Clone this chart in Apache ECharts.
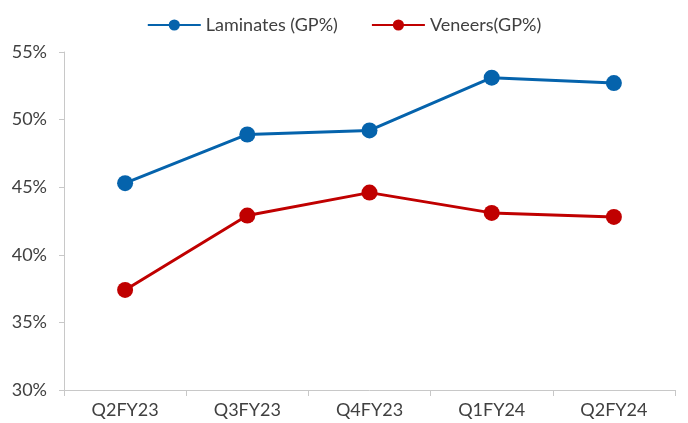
<!DOCTYPE html>
<html><head><meta charset="utf-8">
<script src="https://cdn.jsdelivr.net/npm/echarts@6/dist/echarts.min.js"></script>
<style>html,body{margin:0;padding:0;background:#fff}#c{width:688px;height:423px}</style>
</head><body><div id="c"></div>
<script>
const categories = ['Q2FY23','Q3FY23','Q4FY23','Q1FY24','Q2FY24'];
const laminates = [45.3, 48.9, 49.2, 53.1, 52.7];
const veneers = [37.4, 42.9, 44.6, 43.1, 42.8];
const seriesNames = ['Laminates (GP%)', 'Veneers(GP%)'];

const chart = echarts.init(document.getElementById('c'));
const font = 'Lato, "Open Sans", sans-serif';
chart.setOption({
  animation: false,
  textStyle: {fontFamily: font},
  legend: {
    top: 11, left: 'center', itemGap: 33, itemWidth: 53, itemHeight: 14,
    textStyle: {fontSize: 18, color: '#404040', fontFamily: font},
    data: seriesNames
  },
  grid: {left: 64, right: 13, top: 52, bottom: 33},
  xAxis: {
    type: 'category', data: categories, boundaryGap: true,
    axisLine: {lineStyle: {color: '#c8c8c8', width: 1}},
    axisTick: {show: true, length: 6, lineStyle: {color: '#c8c8c8'}},
    axisLabel: {fontSize: 18, color: '#404040', margin: 11, fontFamily: font}
  },
  yAxis: {
    type: 'value', min: 30, max: 55, interval: 5,
    axisLine: {show: true, lineStyle: {color: '#c8c8c8', width: 1}},
    axisTick: {show: true, length: 5, lineStyle: {color: '#c8c8c8'}},
    splitLine: {show: false},
    axisLabel: {fontSize: 18, color: '#404040', margin: 17, fontFamily: font, formatter: v => v + '%'}
  },
  series: [
    {name: seriesNames[0], type: 'line', data: laminates, symbol: 'circle', symbolSize: 16,
     lineStyle: {color: '#0563ac', width: 3}, itemStyle: {color: '#0563ac'}},
    {name: seriesNames[1], type: 'line', data: veneers, symbol: 'circle', symbolSize: 16,
     lineStyle: {color: '#c00000', width: 3}, itemStyle: {color: '#c00000'}}
  ]
});
</script></body></html>
